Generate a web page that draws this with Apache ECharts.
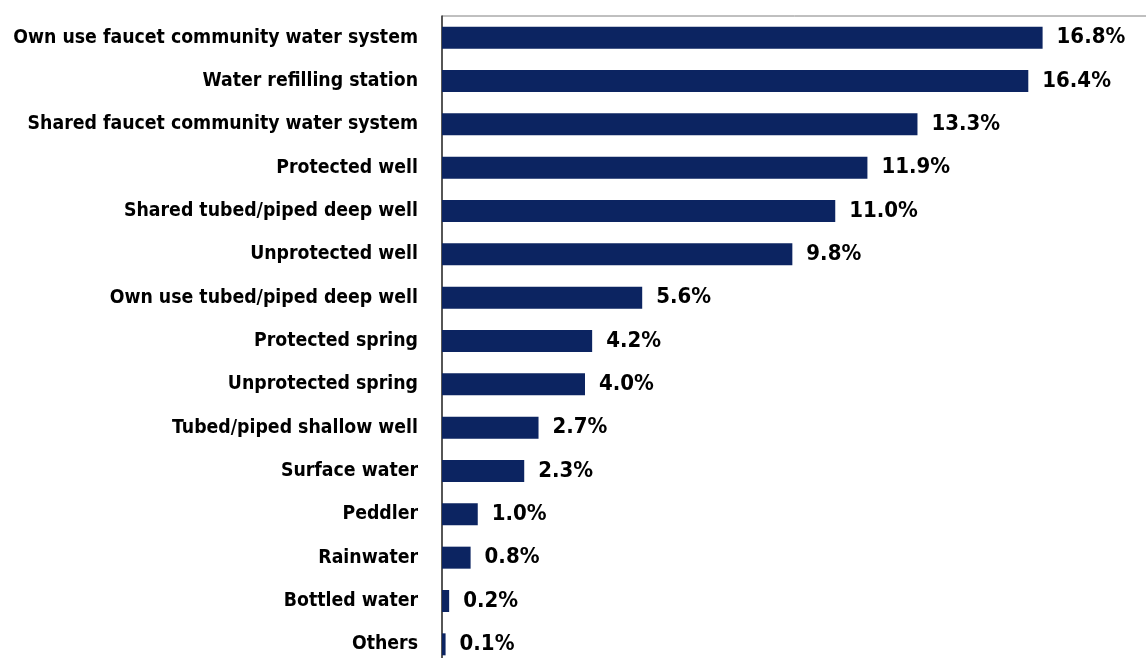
<!DOCTYPE html>
<html><head><meta charset="utf-8">
<script src="https://cdn.jsdelivr.net/npm/echarts@6/dist/echarts.min.js"></script>
<style>html,body{margin:0;padding:0;background:#fff}#c{width:1146px;height:658px}</style>
</head><body><div id="c"></div>
<script>
const categories = ["Own use faucet community water system","Water refilling station","Shared faucet community water system","Protected well","Shared tubed/piped deep well","Unprotected well","Own use tubed/piped deep well","Protected spring","Unprotected spring","Tubed/piped shallow well","Surface water","Peddler","Rainwater","Bottled water","Others"];
const values = [16.8,16.4,13.3,11.9,11.0,9.8,5.6,4.2,4.0,2.7,2.3,1.0,0.8,0.2,0.1];

const FONT = "'DejaVu Sans Condensed', 'Liberation Sans', sans-serif";
const chart = echarts.init(document.getElementById('c'));
chart.setOption({
  animation:false,
  grid:{left:442, top:16, width:715, height:650, outerBoundsMode:'none', containLabel:false, show:true, borderColor:'#808080', borderWidth:1},
  xAxis:{type:'value', min:0, max:20, show:false},
  yAxis:{type:'category', inverse:true, data:categories,
    axisLine:{show:true, lineStyle:{color:'#333', width:1.5}},
    axisTick:{show:false},
    axisLabel:{margin:24, color:'#000', fontFamily:FONT, fontWeight:'bold', fontSize:19.3}
  },
  series:[{type:'bar', data:values, barWidth:22, itemStyle:{color:'#0c2461'},
    label:{show:true, position:'right', distance:14, color:'#000', fontFamily:FONT, fontWeight:'bold', fontSize:22,
      formatter:p=>p.value.toFixed(1)+'%'}}]
});
</script></body></html>
